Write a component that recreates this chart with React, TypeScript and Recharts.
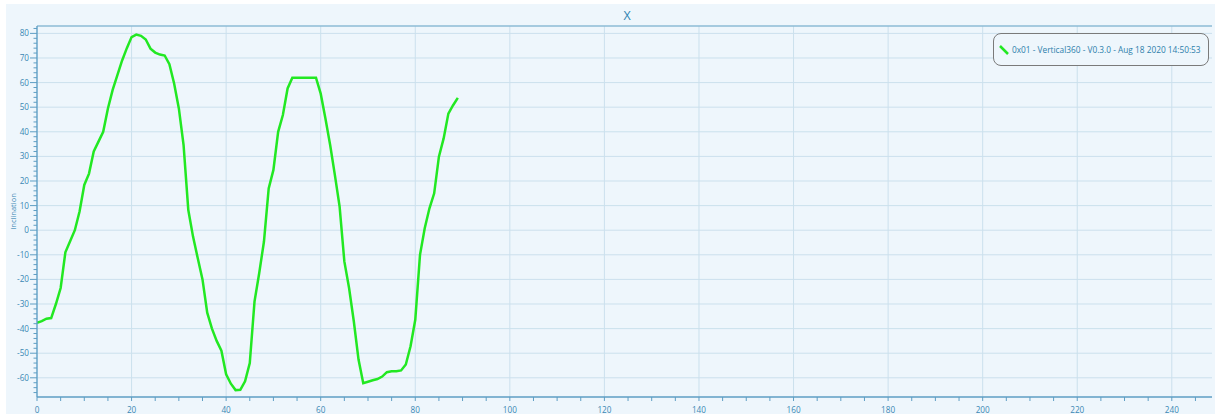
import React from 'react';
import { CartesianGrid, Line, LineChart, ReferenceLine, XAxis, YAxis } from 'recharts';

const sampleIndex = [
	0, 1, 2, 3, 4, 5, 6, 7, 8, 9, 10, 11, 12, 13, 14, 15, 16, 17, 18, 19, 20, 21, 22, 23, 24, 25, 26, 27, 28, 29,
	30, 31, 32, 33, 34, 35, 36, 37, 38, 39, 40, 41, 42, 43, 44, 45, 46, 47, 48, 49, 50, 51, 52, 53, 54, 55, 56, 57, 58, 59,
	60, 61, 62, 63, 64, 65, 66, 67, 68, 69, 70, 71, 72, 73, 74, 75, 76, 77, 78, 79, 80, 81, 82, 83, 84, 85, 86, 87, 88, 89
];
const inclination = [
	-37.7, -37, -36, -35.7, -30, -23.5, -9, -4.5, 0, 7.6, 18.4, 23, 32, 36, 40, 49.5, 57, 63, 69, 74,
	78.5, 79.5, 79, 77.5, 73.8, 72.2, 71.4, 71, 67.5, 59.6, 49.5, 34.6, 8.2, -2.6, -11.4, -20, -33.5, -40, -45, -49,
	-58.6, -62.4, -65, -64.9, -61.4, -54, -29, -17.4, -4.6, 17, 24.5, 40, 46.8, 57.6, 62, 62, 62, 62, 62, 62,
	55.5, 45.4, 34.6, 22.4, 9.6, -12.7, -23.5, -37, -52.6, -62.2, -61.6, -61, -60.5, -59.5, -57.7, -57.3, -57.3, -57, -54.6, -47.2,
	-36.4, -10, 0.8, 8.9, 15, 29.9, 37.3, 47.4, 50.8, 53.8
];
const seriesName = '0x01 - Vertical360 - V0.3.0 - Aug 18 2020 14:50:53';
const chartTitle = 'X';
const yAxisTitle = 'Inclination';

const xMajorTicks = [0, 20, 40, 60, 80, 100, 120, 140, 160, 180, 200, 220, 240];
const yMajorTicks = [-60, -50, -40, -30, -20, -10, 0, 10, 20, 30, 40, 50, 60, 70, 80];
const xMinorStep = 5;
const yMinorStep = 2;
const xDomain: [number, number] = [0, 248.5];
const yDomain: [number, number] = [-67.8, 83];

const xAllTicks: number[] = [];
for (let v = 0; v <= 245; v += xMinorStep) xAllTicks.push(v);
const yAllTicks: number[] = [];
for (let v = -66; v <= 82; v += yMinorStep) yAllTicks.push(v);

const data = sampleIndex.map((i, k) => ({ sample: i, value: inclination[k] }));

const BG = '#eef6fc';
const GRID = '#cbe0ed';
const AXIS = '#5e9ec4';
const TEXT = '#3a88b4';
const LINE = '#22e822';
const FONT = '"Open Sans", "Noto Sans", sans-serif';

const XTick = (props: any) => {
	const { x, y, payload } = props;
	const major = xMajorTicks.includes(payload.value);
	return (
		<g>
			<line x1={x} x2={x} y1={y} y2={y + 4} stroke={AXIS} strokeWidth={1} />
			{major && (
				<text x={x} y={y + 16} textAnchor="middle" fontSize={8.2} fontFamily={FONT} fill={TEXT}>
					{payload.value}
				</text>
			)}
		</g>
	);
};

const YTick = (props: any) => {
	const { x, y, payload } = props;
	const major = yMajorTicks.includes(payload.value);
	return (
		<g>
			<line x1={x - (major ? 7 : 3.5)} x2={x} y1={y} y2={y} stroke={AXIS} strokeWidth={1} />
			{major && (
				<text x={x - 8} y={y + 3} textAnchor="end" fontSize={8.2} fontFamily={FONT} fill={TEXT}>
					{payload.value}
				</text>
			)}
		</g>
	);
};

export default function App() {
	return (
		<div style={{ position: 'absolute', left: 0, top: 0, width: 1215, height: 414, background: '#ffffff', overflow: 'hidden' }}>
			<div style={{ position: 'absolute', left: 6, top: 4, width: 1209, height: 410, background: BG }} />
			<div style={{ position: 'absolute', left: 0, top: 0 }}>
				<LineChart width={1215} height={414} data={data} margin={{ top: 26, right: 3, left: 0, bottom: 0 }}>
					<CartesianGrid stroke={GRID} strokeWidth={1} horizontalValues={yMajorTicks} verticalValues={xMajorTicks} />
					<XAxis
						dataKey="sample"
						type="number"
						domain={xDomain}
						ticks={xAllTicks}
						interval={0}
						tick={<XTick />}
						tickLine={false}
						tickSize={0}
						tickMargin={0}
						height={17}
						axisLine={{ stroke: AXIS, strokeWidth: 1.3 }}
						allowDataOverflow
					/>
					<YAxis
						type="number"
						domain={yDomain}
						ticks={yAllTicks}
						interval={0}
						tick={<YTick />}
						tickLine={false}
						tickSize={0}
						tickMargin={0}
						width={37}
						axisLine={{ stroke: AXIS, strokeWidth: 1.3 }}
						allowDataOverflow
					/>
					<ReferenceLine y={yDomain[1]} stroke="#8cbbd6" strokeWidth={1.3} ifOverflow="visible" />
					<Line
						type="linear"
						dataKey="value"
						name={seriesName}
						stroke={LINE}
						strokeWidth={2.5}
						dot={false}
						isAnimationActive={false}
					/>
				</LineChart>
			</div>
			<svg width={1215} height={414} style={{ position: 'absolute', left: 0, top: 0, pointerEvents: 'none' }}>
				<text x={627} y={19.5} textAnchor="middle" fontSize={12.5} fontFamily={FONT} fill="#2f84b2">
					{chartTitle}
				</text>
				<text
					x={12.5}
					y={211.5}
					transform="rotate(-90 12.5 211.5)"
					textAnchor="middle"
					dominantBaseline="central"
					fontSize={7.5}
					fontFamily={FONT}
					fill={TEXT}
				>
					{yAxisTitle}
				</text>
			</svg>
			<div
				style={{
					position: 'absolute',
					left: 993,
					top: 33,
					width: 216,
					height: 33,
					boxSizing: 'border-box',
					border: '1px solid #7a7a7a',
					borderRadius: 8,
					background: BG,
					display: 'flex',
					alignItems: 'center',
					fontFamily: FONT,
					fontSize: 8.3,
					color: '#2d7eab'
				}}
			>
				<svg width={18} height={14} style={{ flex: 'none' }}>
					<line x1={6} y1={3} x2={14} y2={11} stroke={LINE} strokeWidth={2.5} />
				</svg>
				<span style={{ whiteSpace: 'nowrap' }}>{seriesName}</span>
			</div>
		</div>
	);
}
